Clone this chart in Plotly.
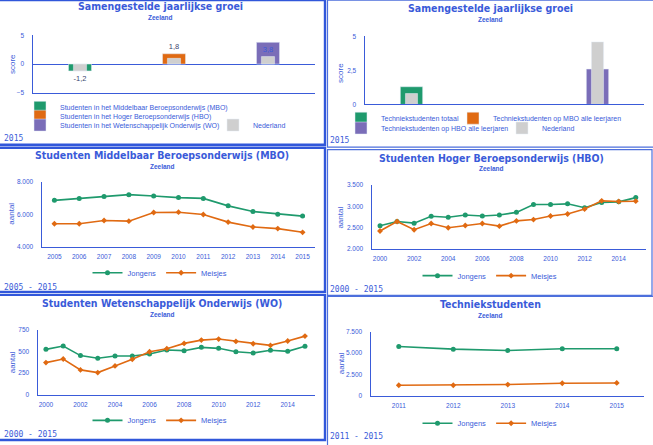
import plotly.graph_objects as go

W, H = 653, 445


def px(x):
    return x / W


def py(y):
    return 1 - y / H


BLUE = '#3a5bd9'
FRAME = '#3157da'
FRAME_R = '#4d6fdc'
TEXTDARK = '#3a4670'
GREEN = '#1f9a6d'
ORANGE = '#e06a12'
PURPLE = '#7a6db8'
GREY = '#cfcfcf'

TITLE_FONT = 'DejaVu Sans Condensed, DejaVu Sans'
SMALL_FONT = 'Liberation Sans Narrow, Arial Narrow, Liberation Sans, Arial'
MONO_FONT = 'DejaVu Sans Mono'

# ---------------- data ----------------
groei_cat = ['MBO', 'HBO', 'WO']
groei_names = ['Studenten in het Middelbaar Beroepsonderwijs (MBO)',
               'Studenten in het Hoger Beroepsonderwijs (HBO)',
               'Studenten in het Wetenschappelijk Onderwijs (WO)']
groei_vals = [-1.2, 1.8, 3.8]
groei_nl = [-1.2, 1.0, 1.3]

tech_cat = ['totaal', 'MBO', 'HBO']
tech_names = ['Techniekstudenten totaal',
              'Techniekstudenten op MBO alle leerjaren',
              'Techniekstudenten op HBO alle leerjaren']
tech_vals = [1.3, None, 2.6]
tech_nl = [0.8, None, 4.6]

mbo_years = [2005, 2006, 2007, 2008, 2009, 2010, 2011, 2012, 2013, 2014, 2015]
mbo_jongens = [6880, 7000, 7110, 7230, 7150, 7050, 7000, 6540, 6190, 6030, 5910]
mbo_meisjes = [5440, 5440, 5640, 5600, 6130, 6150, 6010, 5540, 5240, 5140, 4910]

hbo_years = list(range(2000, 2016))
hbo_jongens = [2546, 2646, 2608, 2769, 2746, 2800, 2777, 2800, 2861, 3046, 3046,
               3061, 2969, 3092, 3107, 3207]
hbo_meisjes = [2423, 2646, 2454, 2600, 2500, 2554, 2600, 2538, 2661, 2692, 2777,
               2823, 2938, 3131, 3115, 3123]

wo_years = list(range(2000, 2016))
wo_jongens = [524, 563, 452, 421, 448, 448, 471, 517, 509, 547, 536, 497, 482, 513,
              501, 559]
wo_meisjes = [371, 413, 287, 256, 333, 409, 497, 532, 593, 631, 643, 616, 589, 570,
              620, 677]

tech_years = [2011, 2012, 2013, 2014, 2015]
tech_jongens = [5770, 5460, 5310, 5500, 5500]
tech_meisjes = [1230, 1230, 1310, 1460, 1500]

fig = go.Figure()

# ---------------- top-left: samengestelde groei ----------------
label_pos = ['outside', 'outside', 'inside']
label_col = [TEXTDARK, TEXTDARK, BLUE]
for i, (name, cat, val, col) in enumerate(zip(groei_names, groei_cat, groei_vals,
                                                [GREEN, ORANGE, PURPLE])):
    fig.add_trace(go.Bar(
        x=[cat], y=[val], name=name, marker_color=col, width=0.245,
        xaxis='x', yaxis='y', legend='legend' if i == 0 else f'legend{i + 1}',
        texttemplate='%{y:.1f}', textposition=label_pos[i], insidetextanchor='end',
        textfont=dict(family=SMALL_FONT, size=7.5, color=label_col[i]),
        cliponaxis=False, hoverinfo='skip'))
fig.add_trace(go.Bar(
    x=groei_cat, y=groei_nl, name='Nederland', marker_color=GREY, width=0.14,
    xaxis='x', yaxis='y', legend='legend4', hoverinfo='skip'))

# ---------------- top-right: techniek groei ----------------
for i, (name, cat, val, col) in enumerate(zip(tech_names, tech_cat, tech_vals,
                                                [GREEN, ORANGE, PURPLE])):
    fig.add_trace(go.Bar(
        x=[cat], y=[val], name=name, marker_color=col, width=0.24,
        xaxis='x2', yaxis='y2', legend=f'legend{i + 5}', hoverinfo='skip'))
fig.add_trace(go.Bar(
    x=tech_cat, y=tech_nl, name='Nederland', marker_color=GREY, width=0.13,
    xaxis='x2', yaxis='y2', legend='legend8', hoverinfo='skip'))


def add_lines(xs, jong, meis, ax, leg):
    fig.add_trace(go.Scatter(
        x=xs, y=jong, name='Jongens', mode='lines+markers',
        line=dict(color=GREEN, width=1.6), marker=dict(symbol='circle', size=5, color=GREEN),
        xaxis=f'x{ax}', yaxis=f'y{ax}', legend=leg, hoverinfo='skip'))
    fig.add_trace(go.Scatter(
        x=xs, y=meis, name='Meisjes', mode='lines+markers',
        line=dict(color=ORANGE, width=1.6), marker=dict(symbol='diamond', size=4.5, color=ORANGE),
        xaxis=f'x{ax}', yaxis=f'y{ax}', legend=leg, hoverinfo='skip'))


add_lines(mbo_years, mbo_jongens, mbo_meisjes, 3, 'legend9')
add_lines(hbo_years, hbo_jongens, hbo_meisjes, 4, 'legend10')
add_lines(wo_years, wo_jongens, wo_meisjes, 5, 'legend11')
add_lines(tech_years, tech_jongens, tech_meisjes, 6, 'legend12')

# ---------------- axes ----------------
TICKFONT = dict(family=SMALL_FONT, size=6.5, color=BLUE)


def xax(left, right, anchor, rng, dtick=None, show=True, cat=False):
    d = dict(domain=[px(left), px(right)], anchor=anchor, range=rng,
             showline=True, linecolor=BLUE, linewidth=1, showgrid=False,
             zeroline=False, ticks='', showticklabels=show, tickfont=TICKFONT,
             fixedrange=True, ticklabelstandoff=3)
    if cat:
        d['type'] = 'category'
    else:
        d['dtick'] = dtick
        d['tick0'] = 2000
    return d


def yax(top, bottom, anchor, rng, dtick, zeroline=False):
    return dict(domain=[py(bottom), py(top)], anchor=anchor, range=rng, dtick=dtick,
                tick0=0, showline=True, linecolor=BLUE, linewidth=1.5, showgrid=False,
                zeroline=zeroline, zerolinecolor=BLUE, zerolinewidth=1, ticks='',
                tickfont=TICKFONT, tickformat=',', fixedrange=True,
                ticklabelstandoff=6)


layout_axes = dict(
    xaxis=xax(33, 315, 'y', [-0.5, 2.5], show=False, cat=True),
    yaxis=yax(32, 90, 'x', [-5, 5], 5, zeroline=True),
    xaxis2=xax(365, 644, 'y2', [-0.5, 2.5], show=False, cat=True),
    yaxis2=yax(33, 102, 'x2', [0, 5], 2.5),
    xaxis3=xax(42, 315, 'y3', [2004.5, 2015.5], dtick=1),
    yaxis3=yax(181, 247, 'x3', [4000, 8000], 2000),
    xaxis4=xax(372, 646, 'y4', [1999.53, 2015.6], dtick=2),
    yaxis4=yax(184, 249, 'x4', [2000, 3500], 500),
    xaxis5=xax(38, 315, 'y5', [1999.54, 2015.58], dtick=2),
    yaxis5=yax(331, 397, 'x5', [0, 750], 250),
    xaxis6=xax(371, 644, 'y6', [2010.49, 2015.5], dtick=1),
    yaxis6=yax(333, 398, 'x6', [0, 7500], 2500),
)
layout_axes['yaxis2']['tickformat'] = ''

# ---------------- legends ----------------
BAR_LEGFONT = dict(family=SMALL_FONT, size=7, color=BLUE)
LINE_LEGFONT = dict(family=SMALL_FONT, size=7.5, color=BLUE)


def leg(text_x, y, orientation='v', xanchor='left', font=BAR_LEGFONT):
    x = text_x - 40 if xanchor == 'left' else text_x
    return dict(x=px(x), y=py(y), xanchor=xanchor, yanchor='middle',
                orientation=orientation, font=font, bgcolor='rgba(0,0,0,0)',
                borderwidth=0, itemwidth=30, tracegroupgap=0,
                itemclick=False, itemdoubleclick=False)


legends = dict(
    legend=leg(60, 105), legend2=leg(60, 114), legend3=leg(60, 123), legend4=leg(253, 123),
    legend5=leg(381, 116), legend6=leg(493, 116), legend7=leg(381, 126), legend8=leg(542, 126),
    legend9=leg(160, 273, 'h', 'center', LINE_LEGFONT),
    legend10=leg(490, 276, 'h', 'center', LINE_LEGFONT),
    legend11=leg(160, 423, 'h', 'center', LINE_LEGFONT),
    legend12=leg(490, 426, 'h', 'center', LINE_LEGFONT),
)

# ---------------- texts ----------------
annotations = []


def ann(text, x, y, size, family, xanchor='center', angle=0, bold=False):
    annotations.append(dict(
        text=f'<b>{text}</b>' if bold else text, x=px(x), y=py(y), xref='paper',
        yref='paper', xanchor=xanchor, yanchor='middle', showarrow=False,
        textangle=angle, font=dict(family=family, size=size, color=BLUE)))


titles = [('Samengestelde jaarlijkse groei', 160, 2, 13.5),
          ('Samengestelde jaarlijkse groei', 490, 4.5, 16),
          ('Studenten Middelbaar Beroepsonderwijs (MBO)', 162, 153, 165),
          ('Studenten Hoger Beroepsonderwijs (HBO)', 491, 156, 167),
          ('Studenten Wetenschappelijk Onderwijs (WO)', 162, 304, 315),
          ('Techniekstudenten', 490, 305, 316)]
for t, x, y, ys in titles:
    ann(t, x, y, 10.5, TITLE_FONT, bold=True)
    ann('Zeeland', x, ys, 6.5, SMALL_FONT, bold=True)

periods = [('2015', 2, 137), ('2015', 328, 139), ('2005 - 2015', 2, 288),
           ('2000 - 2015', 328, 290), ('2000 - 2015', 2, 437), ('2011 - 2015', 328, 439)]
for t, x, y in periods:
    ann(t, x, y, 8, MONO_FONT, xanchor='left')

axis_titles = [('score', 12, 61), ('score', 341, 70), ('aantal', 12, 213),
               ('aantal', 341, 217), ('aantal', 12, 364), ('aantal', 341, 365)]
for t, x, y in axis_titles:
    ann(t, x, y, 8, SMALL_FONT, angle=-90)

# ---------------- panel frames ----------------
shapes = []
frames = [(-4, -4, 325, 143, 2.4, FRAME), (327.5, -4, 658, 145.5, 1.2, FRAME_R),
          (-4, 146, 325, 292.5, 2.4, FRAME), (327.5, 148, 652, 296, 1.2, FRAME_R),
          (-4, 295.5, 325, 443, 2.4, FRAME), (327.5, 297, 658, 450, 1.2, FRAME_R)]
for x0, y0, x1, y1, w, c in frames:
    shapes.append(dict(type='rect', xref='paper', yref='paper', x0=px(x0), x1=px(x1),
                       y0=py(y1), y1=py(y0), line=dict(color=c, width=w),
                       fillcolor='rgba(0,0,0,0)', layer='above'))

fig.update_layout(
    width=W, height=H, margin=dict(l=0, r=0, t=0, b=0),
    paper_bgcolor='white', plot_bgcolor='white', barmode='overlay',
    separators=',.', showlegend=True, annotations=annotations, shapes=shapes,
    hovermode=False, **layout_axes, **legends)

fig.write_html('out.html', config=dict(displayModeBar=False, staticPlot=True))
